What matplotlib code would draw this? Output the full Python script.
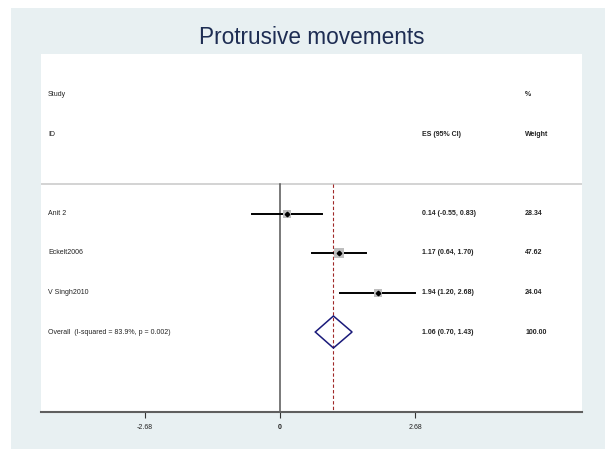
import numpy as np
import matplotlib.pyplot as plt
from matplotlib.patches import Rectangle, Polygon

# datos del forest plot
studies = ['Anit 2', 'Eckelt2006', 'V Singh2010']
es = [0.14, 1.17, 1.94]
lo = [-0.55, 0.64, 1.20]
hi = [0.83, 1.70, 2.68]
weights = [28.34, 47.62, 24.04]

overall_es = 1.06
overall_lo = 0.70
overall_hi = 1.43
overall_weight = 100.00
overall_label = 'Overall  (I-squared = 83.9%, p = 0.002)'

xticks = [-2.68, 0, 2.68]
xtick_labels = ['-2.68', '0', '2.68']

plt.rcParams['font.family'] = ['Liberation Sans', 'DejaVu Sans']

W, H = 605, 449
fig = plt.figure(figsize=(W / 100, H / 100), dpi=100, facecolor='white')
fig.patches.append(Rectangle((11 / W, 0), 1, 441 / H, transform=fig.transFigure,
                             facecolor='#E8F0F2', edgecolor='none', zorder=-10))

# ejes interiores (coordenadas y en pixeles desde arriba)
left, right, top, bottom = 41, 582, 54, 412
ax = fig.add_axes([left / W, (H - bottom) / H, (right - left) / W, (bottom - top) / H])
ax.set_zorder(1)
ax.set_facecolor('white')
scale = 50.4
ax.set_xlim((left - 280) / scale, (right - 280) / scale)
ax.set_ylim(bottom, top)

row_y = 95 + 39.5 * np.arange(7)
header_line = 184
tr = ax.get_yaxis_transform()
x_study, x_es, x_w = 0.0129, 0.704, 0.895
fs = 5
tc = '#222222'

# cabecera
ax.text(x_study, row_y[0], 'Study', transform=tr, fontsize=fs, va='center', color=tc)
ax.text(x_study, row_y[1], 'ID', transform=tr, fontsize=fs, va='center', color=tc)
ax.text(x_es, row_y[1], 'ES (95% CI)', transform=tr, fontsize=fs, va='center', weight='bold', color=tc)
ax.text(x_w, row_y[0], '%', transform=tr, fontsize=fs, va='center', weight='bold', color=tc)
ax.text(x_w, row_y[1], 'Weight', transform=tr, fontsize=fs, va='center', weight='bold', color=tc)
ax.axhline(header_line, color='#C8C8C8', lw=1.1, zorder=1)

# lineas verticales
ax.plot([0, 0], [header_line, bottom], color='#555555', lw=1.1, zorder=1)
ax.plot([overall_es, overall_es], [header_line, bottom], color='#A02828', lw=0.8,
        dashes=(3, 2), zorder=1)

# estudios
for i in range(len(studies)):
    y = row_y[3 + i]
    ax.plot([lo[i], hi[i]], [y, y], color='black', lw=1.4, zorder=2)
    ax.plot(es[i], y, marker='s', color='#BEBEBE', markersize=1.55 * np.sqrt(weights[i]) * 0.72,
            markeredgewidth=0, zorder=3)
    ax.plot(es[i], y, marker='D', color='black', markersize=2.3, zorder=4)
    ax.text(x_study, y, studies[i], transform=tr, fontsize=fs, va='center', color=tc)
    ax.text(x_es, y, f'{es[i]:.2f} ({lo[i]:.2f}, {hi[i]:.2f})', transform=tr,
            fontsize=fs, va='center', weight='bold', color=tc)
    ax.text(x_w, y, f'{weights[i]:.2f}', transform=tr, fontsize=fs, va='center', weight='bold', color=tc)

# global
yo = row_y[6]
dh = 16
ax.add_patch(Polygon([[overall_lo, yo], [overall_es, yo - dh], [overall_hi, yo], [overall_es, yo + dh]],
                     closed=True, fill=False, edgecolor='#1A1A7A', lw=1.1, zorder=3))
ax.text(x_study, yo, overall_label, transform=tr, fontsize=fs, va='center', color=tc)
ax.text(x_es, yo, f'{overall_es:.2f} ({overall_lo:.2f}, {overall_hi:.2f})', transform=tr,
        fontsize=fs, va='center', weight='bold', color=tc)
ax.text(x_w, yo, f'{overall_weight:.2f}', transform=tr, fontsize=fs, va='center', weight='bold', color=tc)

# eje x
for s in ['top', 'left', 'right']:
    ax.spines[s].set_visible(False)
ax.spines['bottom'].set_color('#5F5F5F')
ax.spines['bottom'].set_linewidth(1.5)
ax.set_yticks([])
ax.set_xticks(xticks)
ax.set_xticklabels(xtick_labels, fontsize=fs, color=tc)
ax.tick_params(axis='x', length=4.5, width=0.8, color='#333333', pad=4)
ax.get_xticklabels()[1].set_fontweight('bold')

fig.text((left + right) / 2 / W, 1 - 38 / H, 'Protrusive movements', fontsize=16.3,
         color='#1E2D53', ha='center', va='center')

plt.savefig('out.png', dpi=100)
